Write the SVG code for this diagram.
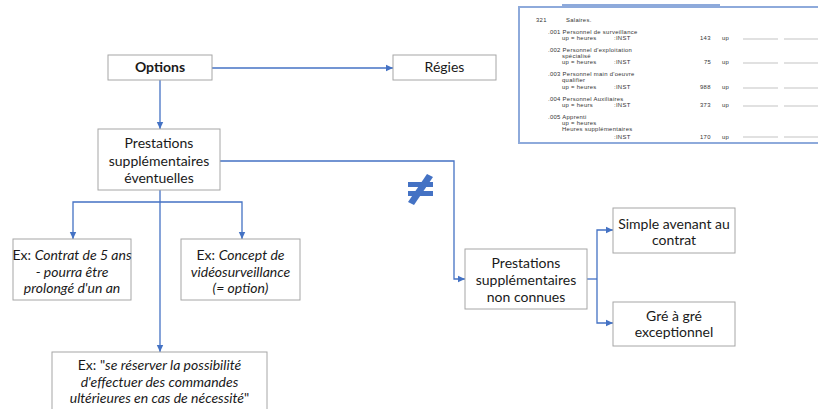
<svg xmlns="http://www.w3.org/2000/svg" width="818" height="409" viewBox="0 0 818 409">
  <defs>
    <marker id="arrow" markerUnits="userSpaceOnUse" markerWidth="8" markerHeight="8" refX="7" refY="4" orient="auto">
      <path d="M0,0.8 L7,4 L0,7.2 Z" fill="#4472c4"/>
    </marker>
    <style>
      .box { fill: #ffffff; stroke: #a6a6a6; stroke-width: 1; }
      .lbl { font-family: Lato, "Liberation Sans", sans-serif; font-size: 14px; fill: #1a1a1a; text-anchor: middle; }
      .it { font-style: italic; }
      .bold { font-weight: bold; }
      .wire { fill: none; stroke: #4472c4; stroke-width: 1.3; }
      .arr { marker-end: url(#arrow); }
      .tbl { font-family: "Liberation Sans", Arial, sans-serif; font-size: 5.9px; letter-spacing: 0.3px; fill: #333333; }
      .dash { stroke: #9a9a9a; stroke-width: 0.6; }
    </style>
  </defs>

  <rect width="818" height="409" fill="#ffffff"/>

  <!-- scanned budget extract -->
  <g id="extrait-budget">
    <line x1="562" y1="5" x2="720" y2="5" stroke="#8eaadb" stroke-width="2"/>
    <rect x="519" y="7" width="305" height="136" fill="#ffffff" stroke="#8eaadb" stroke-width="2"/>
    <text class="tbl" x="536" y="21.5">321</text>
    <text class="tbl" x="566" y="21.5">Salaires.</text>

    <text class="tbl" x="548" y="34">.001  Personnel de surveillance</text>
    <text class="tbl" x="562" y="40">up = heures</text>
    <text class="tbl" x="614" y="40">:INST</text>
    <text class="tbl" x="700" y="40">143</text>
    <text class="tbl" x="722" y="40">up</text>

    <text class="tbl" x="548" y="51.5">.002  Personnel d'exploitation</text>
    <text class="tbl" x="562" y="57.5">spécialisé</text>
    <text class="tbl" x="562" y="64">up = heures</text>
    <text class="tbl" x="614" y="64">:INST</text>
    <text class="tbl" x="704" y="64">75</text>
    <text class="tbl" x="722" y="64">up</text>

    <text class="tbl" x="548" y="76">.003  Personnel  main d'oeuvre</text>
    <text class="tbl" x="562" y="82">qualifier</text>
    <text class="tbl" x="562" y="89">up = heures</text>
    <text class="tbl" x="614" y="89">:INST</text>
    <text class="tbl" x="700" y="89">988</text>
    <text class="tbl" x="722" y="89">up</text>

    <text class="tbl" x="548" y="100.5">.004  Personnel Auxiliaires</text>
    <text class="tbl" x="562" y="107">up = heurs</text>
    <text class="tbl" x="614" y="107">:INST</text>
    <text class="tbl" x="700" y="107">373</text>
    <text class="tbl" x="722" y="107">up</text>

    <text class="tbl" x="548" y="119">.005  Apprenti</text>
    <text class="tbl" x="562" y="125">up = heures</text>
    <text class="tbl" x="562" y="131">Heures supplémentaires</text>
    <text class="tbl" x="614" y="138.5">:INST</text>
    <text class="tbl" x="700" y="138.5">170</text>
    <text class="tbl" x="722" y="138.5">up</text>

    <g class="dash">
      <line x1="743" y1="39" x2="778" y2="39"/><line x1="784" y1="39" x2="818" y2="39"/>
      <line x1="743" y1="63" x2="778" y2="63"/><line x1="784" y1="63" x2="818" y2="63"/>
      <line x1="743" y1="88" x2="778" y2="88"/><line x1="784" y1="88" x2="818" y2="88"/>
      <line x1="743" y1="106" x2="778" y2="106"/><line x1="784" y1="106" x2="818" y2="106"/>
      <line x1="743" y1="137" x2="778" y2="137"/><line x1="784" y1="137" x2="818" y2="137"/>
    </g>
  </g>

  <!-- connectors -->
  <g id="connecteurs">
    <path class="wire arr" d="M212 68 H393"/>
    <path class="wire arr" d="M160 80 V129"/>
    <path class="wire arr" d="M220 161 H454 V279 H465"/>
    <path class="wire arr" d="M160 190 V352"/>
    <path class="wire arr" d="M160 202 H73 V239"/>
    <path class="wire arr" d="M160 202 H242 V239"/>
    <path class="wire" d="M587 279 H597"/>
    <path class="wire arr" d="M597 279 V230 H613"/>
    <path class="wire arr" d="M597 279 V323 H613"/>
  </g>

  <!-- not-equal sign -->
  <g id="different" fill="#4472c4">
    <rect x="408" y="182" width="25" height="5"/>
    <rect x="408" y="191" width="25" height="5"/>
    <polygon points="408,202 427,174 433,177 414,205"/>
  </g>

  <g id="options">
    <rect class="box" x="108" y="55" width="104" height="25"/>
    <text class="lbl bold" x="160" y="72">Options</text>
  </g>

  <g id="regies">
    <rect class="box" x="393" y="55" width="103" height="25"/>
    <text class="lbl" x="444.5" y="72">Régies</text>
  </g>

  <g id="prestations-eventuelles">
    <rect class="box" x="98" y="129" width="122" height="61"/>
    <text class="lbl" x="159" y="148">Prestations</text>
    <text class="lbl" x="159" y="166">supplémentaires</text>
    <text class="lbl" x="159" y="183">éventuelles</text>
  </g>

  <g id="ex-contrat">
    <rect class="box" x="13" y="239" width="118" height="61"/>
    <text class="lbl" x="72" y="260">Ex: <tspan class="it">Contrat de 5 ans</tspan></text>
    <text class="lbl it" x="72" y="277">- pourra être</text>
    <text class="lbl it" x="72" y="293">prolongé d'un an</text>
  </g>

  <g id="ex-concept">
    <rect class="box" x="181" y="239" width="119" height="61"/>
    <text class="lbl" x="240.5" y="260">Ex: <tspan class="it">Concept de</tspan></text>
    <text class="lbl it" x="240.5" y="277">vidéosurveillance</text>
    <text class="lbl it" x="240.5" y="293">(= option)</text>
  </g>

  <g id="ex-commandes">
    <rect class="box" x="52" y="352" width="215" height="62"/>
    <text class="lbl" x="159.5" y="370">Ex: "<tspan class="it">se réserver la possibilité</tspan></text>
    <text class="lbl it" x="159.5" y="387">d'effectuer des commandes</text>
    <text class="lbl" x="159.5" y="403"><tspan class="it">ultérieures en cas de nécessité</tspan>"</text>
  </g>

  <g id="prestations-non-connues">
    <rect class="box" x="465" y="249" width="122" height="60"/>
    <text class="lbl" x="526" y="268">Prestations</text>
    <text class="lbl" x="526" y="285">supplémentaires</text>
    <text class="lbl" x="526" y="302">non connues</text>
  </g>

  <g id="avenant">
    <rect class="box" x="613" y="208" width="122" height="45"/>
    <text class="lbl" x="674" y="229">Simple avenant au</text>
    <text class="lbl" x="674" y="245">contrat</text>
  </g>

  <g id="gre-a-gre">
    <rect class="box" x="613" y="302" width="122" height="44"/>
    <text class="lbl" x="674" y="321">Gré à gré</text>
    <text class="lbl" x="674" y="337">exceptionnel</text>
  </g>
</svg>
